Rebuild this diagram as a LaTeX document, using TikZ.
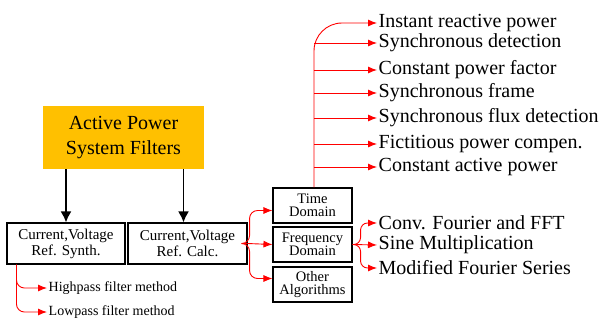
\documentclass[tikz,border=0pt]{standalone}
\usepackage{fontspec}
\setmainfont{Liberation Serif}
\usetikzlibrary{arrows.meta}
\definecolor{apfyellow}{RGB}{255,192,0}

\tikzset{
  block/.style={draw,line width=1.1pt,inner sep=0pt,align=center},
  redarr/.style={red,line width=0.9pt,-{Latex[length=9pt,width=7pt]}},
  blkarr/.style={black,line width=1.8pt,-{Latex[length=11pt,width=11pt]}},
  item/.style={anchor=west,inner sep=1.5pt,font=\fontsize{20}{22}\selectfont},
  smallitem/.style={anchor=west,inner sep=1.5pt,font=\fontsize{14}{16}\selectfont}
}

\begin{document}
\begin{tikzpicture}[x=1pt,y=-1pt]
    \useasboundingbox (0,0) rectangle (602,324);
    % main blocks
    \node[fill=apfyellow,minimum width=161pt,minimum height=63pt,align=center,
          font=\fontsize{20}{25}\selectfont] (apf) at (123.5,137.5) {Active Power\\System Filters};
    \node[block,minimum width=118pt,minimum height=41pt,font=\fontsize{15}{16}\selectfont]
        (synth) at (66,243.5) {Current,Voltage\\Ref. Synth.};
    \node[block,minimum width=119pt,minimum height=41pt,font=\fontsize{15}{16}\selectfont]
        (calc) at (187.5,243.5) {Current,Voltage\\Ref. Calc.};
    \draw[blkarr] (apf.south -| synth.north) -- (synth.north);
    \draw[blkarr] ([xshift=-4pt]apf.south -| calc.north) -- ([xshift=-4pt]calc.north);

    % domains
    \foreach \Y/\N/\T in {205.5/time/{Time\\Domain},244.5/freq/{Frequency\\Domain},284.5/other/{Other\\Algorithms}}
    {\node[block,minimum width=79pt,minimum height=35pt,font=\fontsize{14.5}{13}\selectfont] (\N) at (312.5,\Y) {\T};}
    \draw[redarr,rounded corners=8pt] (calc.east) -- ++(2,0) |- ([yshift=-5pt]time.west);
    \draw[redarr] (calc.east) -- (freq.west);
    \draw[redarr,rounded corners=8pt] (calc.east) -- ++(2,0) |- ([yshift=6pt]other.west);

    % time domain methods
    \node[item] (ir) at (377,23) {Instant reactive power};
    \draw[redarr,rounded corners=28pt] ([xshift=1.5pt]time.north) |- (ir.west);
    \foreach \Y/\N/\T in {43/sd/Synchronous detection,70/cpf/Constant power factor,93/sf/Synchronous frame,
                          118/sfd/Synchronous flux detection,144/fpc/Fictitious power compen.,167/cap/Constant active power}
    {\node[item] (\N) at (377,\Y) {\T};
     \draw[redarr] (\N.west -| time.north) ++(1.5,0) -- (\N.west);}

    % frequency domain methods
    \node[item] (cf) at (377,223) {Conv. Fourier and FFT};
    \node[item] (sm) at (377,245) {Sine Multiplication};
    \node[item] (mf) at (377,268) {Modified Fourier Series};
    \draw[redarr,rounded corners=7pt] (freq.east) -- ++(8,0) |- (cf.west);
    \draw[redarr] (freq.east) -- (sm.west);
    \draw[redarr,rounded corners=7pt] (freq.east) -- ++(8,0) |- (mf.west);

    % synthesis methods
    \node[smallitem] (hp) at (47,288) {Highpass filter method};
    \node[smallitem] (lp) at (47,312) {Lowpass filter method};
    \draw[redarr,rounded corners=8pt] ([xshift=10pt]synth.south west) |- (hp.west);
    \draw[redarr,rounded corners=8pt] ([xshift=10pt]synth.south west) |- (lp.west);
\end{tikzpicture}
\end{document}
